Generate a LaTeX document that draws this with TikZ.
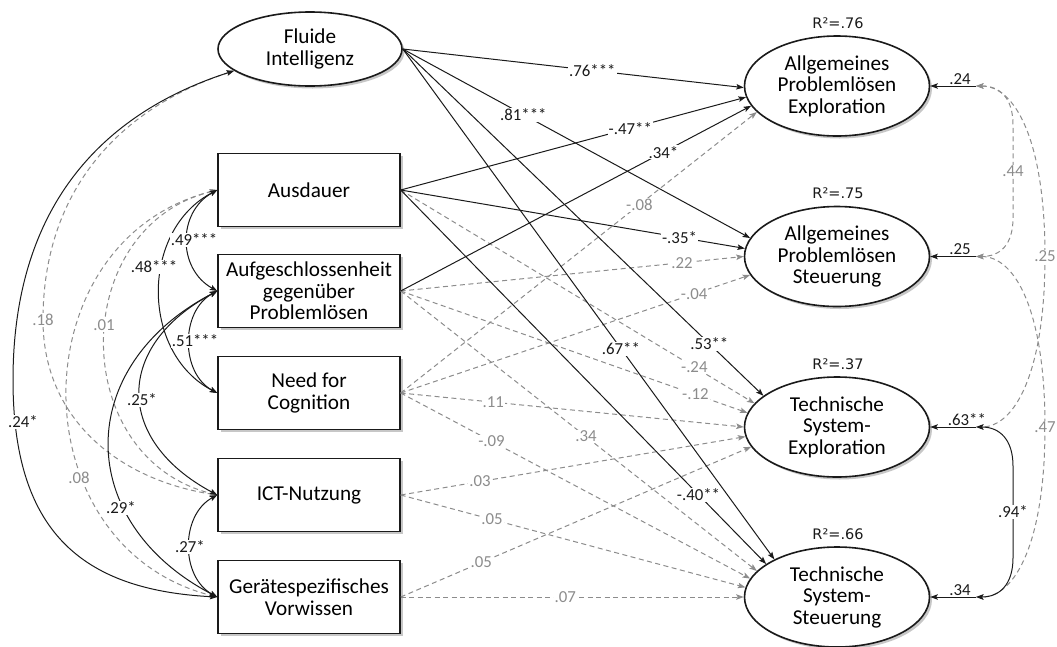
\documentclass[tikz,border=0pt]{standalone}
\usepackage{fontspec}
\setmainfont{Carlito}
\newfontfamily\dejavu{DejaVu Sans}
\usetikzlibrary{arrows.meta,shapes.geometric,shadows}
\definecolor{dgray}{HTML}{8C8C8C}
\definecolor{lblack}{HTML}{1A1A1A}
\begin{document}
\begin{tikzpicture}[x=1pt,y=-1pt,
  >={Stealth[length=7.5pt,width=5.5pt,inset=1.5pt]},
  font=\fontsize{21.2}{21.5}\selectfont,
  shad/.style={drop shadow={shadow xshift=2.5pt,shadow yshift=-2.5pt,opacity=.22,fill=black}},
  box/.style={draw=lblack,line width=1.4pt,rectangle,minimum width=182pt,minimum height=73pt,align=center,fill=white,inner sep=0pt,shad},
  lat/.style={draw=lblack,line width=1.6pt,ellipse,minimum width=185pt,minimum height=100pt,align=center,fill=white,inner sep=0pt,shad},
  reg/.style={->,line width=1pt,draw=lblack},
  ns/.style={->,line width=1pt,draw=dgray,dash pattern=on 5pt off 3.5pt},
  lbl/.style={font=\fontsize{16.8}{17}\selectfont,fill=white,inner sep=1pt,text=lblack},
  glbl/.style={lbl,text=dgray},
  rlbl/.style={font=\fontsize{16.8}{17}\selectfont,inner sep=1pt,text=lblack,above},
  rsq/.style={font=\dejavu\fontsize{14.5}{15}\selectfont,text=lblack},
]
\useasboundingbox (0,0) rectangle (1057,646);

% exogenous variables
\node[lat,minimum width=184pt,minimum height=74pt] (fl) at (310,49) {Fluide\\Intelligenz};
\node[box] (aus) at (309,190) {Ausdauer};
\node[box] (auf) at (309,291) {Aufgeschlossenheit\\gegenüber\\Problemlösen};
\node[box] (nfc) at (309,393) {Need for\\Cognition};
\node[box] (ict) at (309,495) {ICT-Nutzung};
\node[box] (ger) at (309,597) {Gerätespezifisches\\Vorwissen};

% outcomes
\node[lat] (ape) at (837,86) {Allgemeines\\Problemlösen\\Exploration};
\node[lat] (aps) at (837,256.5) {Allgemeines\\Problemlösen\\Steuerung};
\node[lat] (tse) at (837,427) {Technische\\System-\\Exploration};
\node[lat] (tss) at (837,597) {Technische\\System-\\Steuerung};

\node[rsq] (r2a) at (838,23) {R²=.76};
\node[rsq] (r2b) at (838,193.5) {R²=.75};
\node[rsq] (r2c) at (838,364) {R²=.37};
\node[rsq] (r2d) at (838,534) {R²=.66};

% residual points
\coordinate (e1) at (976,86);
\coordinate (e2) at (976,256.5);
\coordinate (e3) at (976,427);
\coordinate (e4) at (976,597);

% ---------- dashed (non-significant) paths ----------
\draw[ns] (aus.east) -- node[glbl,pos=.83]{-.24} (tse.164);
\draw[ns] (auf.east) -- node[glbl,pos=.82]{.22} (aps.180);
\draw[ns] (auf.east) -- node[glbl,pos=.85]{-.12} (tse.171);
\draw[ns] (auf.east) -- node[glbl,pos=.52]{.34} (tss.162);
\draw[ns] (nfc.east) -- node[glbl,pos=.67]{-.08} (ape.198);
\draw[ns] (nfc.east) -- node[glbl,pos=.84]{-.04} (aps.192);
\draw[ns] (nfc.east) -- node[glbl,pos=.27]{.11} (tse.180);
\draw[ns] (nfc.east) -- node[glbl,pos=.26]{-.09} (tss.168);
\draw[ns] (ict.east) -- node[glbl,pos=.23]{.03} (tse.186);
\draw[ns] (ict.east) -- node[glbl,pos=.265]{.05} (tss.174);
\draw[ns] (ger.east) -- node[glbl,pos=.23]{.05} (tse.193);
\draw[ns] (ger.east) -- node[glbl,pos=.48]{.07} (tss.180);

% ---------- significant paths ----------
\draw[reg] (fl.east) -- node[lbl,pos=.556]{.76***} (ape.181);
\draw[reg] (fl.east) -- node[lbl,pos=.347]{.81***} (aps.168);
\draw[reg] (fl.east) -- node[lbl,pos=.85]{.53**} (tse.157);
\draw[reg] (fl.east) -- node[lbl,pos=.587]{.67**} (tss.149);
\draw[reg] (aus.east) -- node[lbl,pos=.665]{-.47**} (ape.187);
\draw[reg] (aus.east) -- node[lbl,pos=.81]{-.35*} (aps.175);
\draw[reg] (aus.east) -- node[lbl,pos=.815]{-.40**} (tss.155);
\draw[reg] (auf.east) -- node[lbl,pos=.75]{.34*} (ape.193);

% ---------- left covariances ----------
\draw[ns,<->] (fl.196) .. controls (120,108) and (43,190) .. (43,320) .. controls (43,420) and (120,480) .. (ict.west);
\draw[ns,<->] (aus.west) .. controls +(-150,37) and +(-150,-37) .. (ict.west);
\draw[ns,<->] (aus.west) .. controls +(-200,50) and +(-200,-50) .. (ger.west);
\node[glbl] (c18) at (43,320) {.18};
\node[glbl] (c01) at (104,325) {.01};
\node[glbl] (c08) at (79,478) {.08};

\draw[reg,<->] (fl.196) .. controls (109,111) and (13,200) .. (13,380) .. controls (13,530) and (80,590) .. (ger.west);
\draw[reg,<->] (aus.west) .. controls +(-40,22) and +(-40,-22) .. (auf.west);
\draw[reg,<->] (aus.west) .. controls +(-77,40) and +(-77,-40) .. (nfc.west);
\draw[reg,<->] (auf.west) .. controls +(-37,20) and +(-37,-20) .. (nfc.west);
\draw[reg,<->] (auf.west) .. controls +(-103,55) and +(-103,-55) .. (ict.west);
\draw[reg,<->] (auf.west) .. controls +(-144,75) and +(-144,-75) .. (ger.west);
\draw[reg,<->] (ict.west) .. controls +(-37,20) and +(-37,-20) .. (ger.west);
\node[lbl] (c24) at (23,422) {.24*};
\node[lbl] (c49) at (194,240) {.49***};
\node[lbl] (c48) at (154,267) {.48***};
\node[lbl] (c51) at (195,341) {.51***};
\node[lbl] (c25) at (142,400) {.25*};
\node[lbl] (c29) at (121,508) {.29*};
\node[lbl] (c27) at (190,547) {.27*};

% ---------- residuals ----------
\draw[reg] (e1) -- node[rlbl,pos=.35]{.24} (ape.east);
\draw[reg] (e2) -- node[rlbl,pos=.35]{.25} (aps.east);
\draw[reg] (e3) -- node[rlbl,pos=.2]{.63**} (tse.east);
\draw[reg] (e4) -- node[rlbl,pos=.35]{.34} (tss.east);

% ---------- residual covariances ----------
\draw[ns,<->] (e1) .. controls (1000,86) and (1013,98) .. (1013,125) -- node[glbl]{.44} (1013,218) .. controls (1013,245) and (1000,256.5) .. (e2);
\draw[ns,<->] (e1) .. controls (1015,86) and (1045,140) .. (1045,256.5) node[glbl]{.25} .. controls (1045,372) and (1015,427) .. (e3);
\draw[ns,<->] (e2) .. controls (1015,256.5) and (1045,310) .. (1045,427) node[glbl]{.47} .. controls (1045,543) and (1015,597) .. (e4);
\draw[reg,<->] (e3) .. controls (1000,427) and (1013,440) .. (1013,466) -- node[lbl]{.94*} (1013,558) .. controls (1013,584) and (1000,597) .. (e4);
\end{tikzpicture}
\end{document}
